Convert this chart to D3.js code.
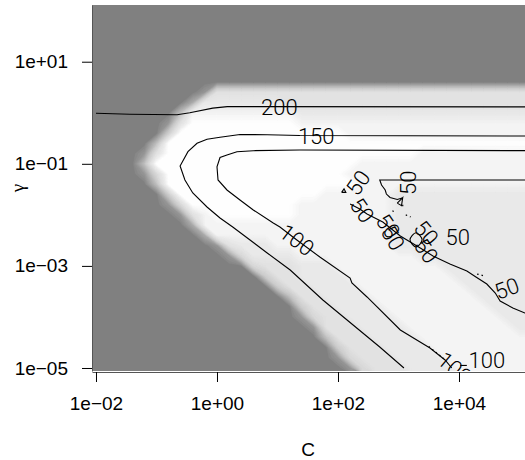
<!DOCTYPE html>
<html>
<head>
<meta charset="utf-8">
<script src="https://cdn.jsdelivr.net/npm/d3@7"></script>
<style>
body { margin: 0; background: #fff; }
svg { display: block; font-family: "Liberation Sans", Arial, sans-serif; }
.clab { font-family: Roboto, "Liberation Sans", sans-serif; font-weight: 300; font-size: 22px; }
</style>
</head>
<body>
<svg id="chart" width="525" height="460"></svg>
<script>
// ---- data (log10 C, log10 gamma) ----
// tuning error image, one string per gamma row (log10 gamma 2.0 down to -5.0, step 0.2),
// one digit per C column (log10 C -2.0 to 5.2, step 0.2); 0 = high error (grey), 9 = low (white)
const errRows = [
  "0000000000000000000000000000000000000",
  "0000000000000000000000000000000000000",
  "0000000000000000000000000000000000000",
  "0000000000000000000000000000000000000",
  "0000000000000000000000000000000000000",
  "0000000000000000000000000000000000000",
  "0000000000000000000000000000000000000",
  "0000000000000000000000000000000000000",
  "0000000001666666666666666666666666666",
  "0000000027777777666666666666666666666",
  "0000000388888888877777777777777777777",
  "0000001699999999988888888888888888888",
  "0000004999999999999998888888888888888",
  "0000039999999999999999999999999999999",
  "0000169999999999999999999998888888888",
  "0000399999999999999999888888888888888",
  "0000159999999999999998888888888888888",
  "0000039999999999999999888888888888888",
  "0000004999999999999888888777777777777",
  "0000001599999999988888888777777777777",
  "0000000168999999988888888777777777777",
  "0000000028888888888888888777777777777",
  "0000000002888888888888888777777777777",
  "0000000000167778888888888777777777777",
  "0000000000015777788888888887777777777",
  "0000000000000566677788888888877777777",
  "0000000000000046677778888888887777777",
  "0000000000000004667777888888888777777",
  "0000000000000000366777788888888877777",
  "0000000000000000046677778888888887777",
  "0000000000000000015667777888888888777",
  "0000000000000000001666777788888888877",
  "0000000000000000000366677778888888888",
  "0000000000000000000046667777888888888",
  "0000000000000000000015666777788888888",
  "0000000000000000000001566677778888888"
];
const errGray = [128, 150, 170, 190, 205, 215, 225, 232, 242, 254];

// contours of the number of support vectors
const sv200 = [[-2.0, -0.01], [-1.44, -0.03], [-0.66, -0.04], [-0.45, 0.0], [-0.07, 0.09],
  [0.17, 0.12], [0.55, 0.12], [5.3, 0.115]];
const sv150 = [[5.3, -0.455], [1.37, -0.446], [0.83, -0.43], [0.38, -0.426], [0.05, -0.481],
  [-0.165, -0.52], [-0.33, -0.598], [-0.48, -0.763], [-0.61, -1.043], [-0.53, -1.317],
  [-0.4, -1.572], [-0.165, -1.846], [0.05, -2.062], [0.26, -2.238], [0.83, -2.747],
  [1.21, -3.08], [1.75, -3.668], [2.69, -4.589], [3.09, -5.0]];
const sv100 = [[5.3, -0.743], [1.37, -0.73], [0.6, -0.743], [0.33, -0.763], [0.165, -0.828],
  [0.05, -0.877], [0.0, -1.057], [0.017, -1.317], [0.165, -1.513], [0.38, -1.709],
  [0.6, -1.905], [0.93, -2.16], [1.04, -2.238], [1.32, -2.492], [1.7, -2.826],
  [2.2, -3.237], [2.23, -3.335], [2.48, -3.609], [3.03, -4.255], [3.52, -4.608],
  [3.77, -4.843], [3.88, -5.0]];
const sv100b = [[4.02, -4.95], [4.13, -4.95]];
const sv50a = [[5.3, -1.317], [2.69, -1.317], [2.72, -1.415], [2.78, -1.513], [2.8, -1.592],
  [2.86, -1.66], [2.98, -1.699], [3.06, -1.67]];
const sv50b = [[2.2, -1.789], [2.36, -1.886], [2.48, -1.984], [2.74, -2.14], [3.03, -2.414],
  [3.36, -2.649], [3.57, -2.806], [3.85, -2.962], [4.13, -3.1], [4.28, -3.217],
  [4.46, -3.355], [4.6, -3.531], [4.68, -3.687], [4.89, -3.824], [5.09, -3.922], [5.3, -4.03]];
const sv50c = [[2.98, -1.77], [3.07, -1.66], [3.05, -1.82], [2.98, -1.77]];
const sv50d = [[2.06, -1.56], [2.1, -1.49], [2.13, -1.56], [2.06, -1.56]];
const sv50loop = [[3.39, -2.49], [3.29, -2.35], [3.19, -2.49], [3.29, -2.63]];
const svDots = [[[3.5, -4.58], [3.75, -4.82]], [[4.3, -3.16], [4.43, -3.2]], [[2.9, -1.92], [2.95, -1.96]],
  [[3.12, -2.0], [3.2, -2.04]], [[3.07, -1.8], [3.07, -1.86]]];

// contour labels: text, log10 C, log10 gamma, angle
const labText = ["200", "150", "100", "50", "50", "50", "50", "50", "50", "50", "50", "50", "100", "100"];
const labC = [1.03, 1.64, 1.32, 3.16, 2.33, 2.4, 2.91, 2.83, 3.46, 3.46, 3.98, 4.79, 4.46, 3.93];
const labG = [0.11, -0.455, -2.492, -1.37, -1.37, -1.91, -2.45, -2.22, -2.7, -2.35, -2.43, -3.44, -4.84, -5.0];
const labAngle = [0, 0, 37, -90, -55, 55, 60, 55, 55, 50, 0, -20, 0, 40];

// axis ticks
const cTicks = [1e-2, 1e0, 1e2, 1e4];
const gTicks = [1e-5, 1e-3, 1e-1, 1e1];

// ---- chart ----
const svg = d3.select("#chart");
const pLeft = 92, pRight = 525, pTop = 5, pBottom = 371;

const x = d3.scaleLog().domain([10 ** -2.066, 10 ** 5.091]).range([pLeft, pRight]);
const y = d3.scaleLog().domain([10 ** -5.059, 10 ** 2.111]).range([pBottom, pTop]);

svg.append("defs").append("clipPath").attr("id", "plotclip")
  .append("rect").attr("x", pLeft).attr("y", pTop)
  .attr("width", pRight - pLeft).attr("height", pBottom - pTop);

const plot = svg.append("g").attr("clip-path", "url(#plotclip)");

// error image as filled bands
const nx = errRows[0].length, ny = errRows.length;
const values = errRows.flatMap(r => r.split("").map(Number));
const grey = d3.scaleLinear().domain(d3.range(errGray.length)).range(errGray);
const fill = v => { const g = Math.round(grey(v)); return `rgb(${g},${g},${g})`; };

const gx = d3.scaleLinear().domain([0, nx]).range([x(10 ** -2.1), x(10 ** 5.3)]);
const gy = d3.scaleLinear().domain([0, ny]).range([y(10 ** 2.1), y(10 ** -5.1)]);
const gridPath = d3.geoPath(d3.geoTransform({
  point(px, py) { this.stream.point(gx(px), gy(py)); }
}));

plot.append("rect").attr("x", pLeft).attr("y", pTop)
  .attr("width", pRight - pLeft).attr("height", pBottom - pTop).attr("fill", fill(0));

const bands = d3.contours().size([nx, ny]).thresholds(d3.range(0.25, 9.01, 0.25))(values);
plot.append("g").selectAll("path")
  .data(bands)
  .join("path")
  .attr("d", gridPath)
  .attr("fill", d => fill(Math.min(9, d.value + 0.125)))
  .attr("stroke", d => fill(Math.min(9, d.value + 0.125)))
  .attr("stroke-width", 0.3);

// contour lines
const line = d3.line().x(d => x(10 ** d[0])).y(d => y(10 ** d[1]));
const lines = plot.append("g").attr("fill", "none").attr("stroke", "#000");
[sv200, sv150, sv100, sv100b, sv50a, sv50b, sv50c, sv50d].forEach(pts => {
  lines.append("path").attr("d", line(pts)).attr("stroke-width", 1.1);
});
lines.append("path").attr("d", line.curve(d3.curveCatmullRomClosed)(sv50loop)).attr("stroke-width", 1.1);
line.curve(d3.curveLinear);
svDots.forEach(pts => {
  lines.append("path").attr("d", line(pts)).attr("stroke-width", 1.2).attr("stroke-dasharray", "1.5,3");
});

// contour labels
plot.append("g").selectAll("text")
  .data(labText.map((t, i) => ({ t, c: labC[i], g: labG[i], a: labAngle[i] })))
  .join("text")
  .attr("class", "clab")
  .attr("transform", d => `translate(${x(10 ** d.c)},${y(10 ** d.g)}) rotate(${d.a})`)
  .attr("text-anchor", "middle")
  .attr("dy", "0.36em")
  .attr("fill", "#000")
  .text(d => d.t);

// axes
const fmt = d => {
  const e = Math.round(Math.log10(d));
  return "1e" + (e < 0 ? "\u2212" : "+") + String(Math.abs(e)).padStart(2, "0");
};

const xAxis = svg.append("g")
  .attr("transform", `translate(0,${pBottom + 1})`)
  .call(d3.axisBottom(x).tickValues(cTicks).tickFormat(fmt).tickSize(10).tickSizeOuter(0).tickPadding(15));
const yAxis = svg.append("g")
  .attr("transform", `translate(${pLeft},0)`)
  .call(d3.axisLeft(y).tickValues(gTicks).tickFormat(fmt).tickSize(10).tickSizeOuter(0).tickPadding(14));

[xAxis, yAxis].forEach(a => {
  a.selectAll("text").attr("font-size", 19).attr("fill", "#000")
    .attr("font-family", "'Liberation Sans', Arial, sans-serif");
  a.selectAll(".tick line").attr("stroke", "#000");
  a.select(".domain").attr("stroke", "#555");
});

svg.append("text").attr("x", 308).attr("y", 456)
  .attr("text-anchor", "middle").attr("font-size", 19).text("C");
svg.append("text").attr("transform", "translate(17,188) rotate(-90)")
  .attr("text-anchor", "middle").attr("dominant-baseline", "central")
  .attr("font-family", "'Liberation Serif', serif")
  .attr("font-size", 19).text("\u03b3");
</script>
</body>
</html>
